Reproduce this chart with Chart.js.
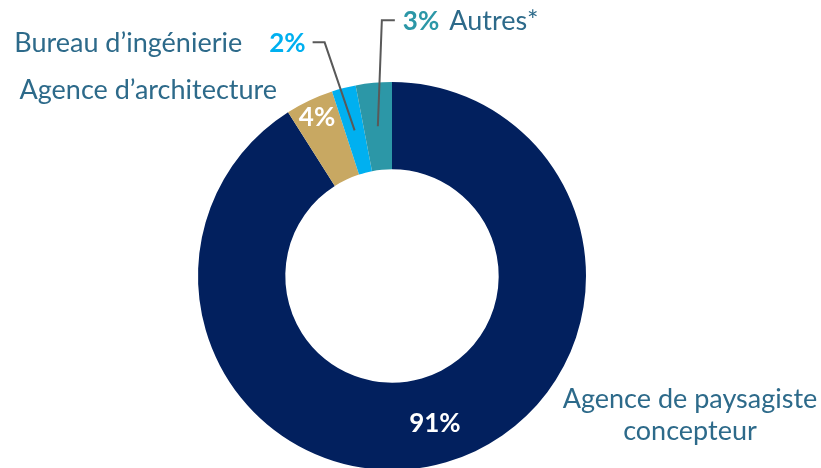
<!DOCTYPE html>
<html>
<head>
<meta charset="utf-8">
<script src="https://cdn.jsdelivr.net/npm/chart.js@4"></script>
<style>
  html, body { margin: 0; padding: 0; background: #fff; }
  #wrap { width: 821px; height: 468px; overflow: hidden; position: relative; }
  canvas { display: block; }
</style>
</head>
<body>
<div id="wrap"><canvas id="donut" width="821" height="560"></canvas></div>
<script>
// chart data
const categories = ['Agence de paysagiste concepteur', 'Agence d\u2019architecture', 'Bureau d\u2019ingénierie', 'Autres*'];
const shares = [91, 4, 2, 3];
const colors = ['#02205E', '#C8A862', '#00B0F0', '#2C97A7'];

const labelColor = '#2D6A8A';
const lineColor = '#595959';
const fontFam = 'Lato, "Open Sans", sans-serif';
const nameFont = '27px ' + fontFam;
const pctFont = 'bold 26px ' + fontFam;

// draws percentages, category names and leader lines from arc positions
const labelPlugin = {
    id: 'donutLabels',
    afterDatasetsDraw(chart) {
        const c = chart.ctx;
        const arcs = chart.getDatasetMeta(0).data;
        const pos = arcs.map(a => a.tooltipPosition());
        c.save();
        c.textBaseline = 'alphabetic';

        // 91% inside the big slice
        c.fillStyle = '#fff';
        c.font = pctFont;
        c.textAlign = 'center';
        c.fillText(shares[0] + '%', pos[0].x + 1, pos[0].y + 12);
        c.fillStyle = labelColor;
        c.font = nameFont;
        c.fillText('Agence de paysagiste', pos[0].x + 256, pos[0].y - 12);
        c.fillText('concepteur', pos[0].x + 256, pos[0].y + 20);

        // 4% pushed towards the outer edge of its slice
        const a1 = arcs[1];
        const mid1 = (a1.startAngle + a1.endAngle) / 2;
        const r1 = a1.outerRadius - 18;
        const p1 = { x: a1.x + Math.cos(mid1) * r1, y: a1.y + Math.sin(mid1) * r1 };
        c.fillStyle = '#fff';
        c.font = pctFont;
        c.textAlign = 'center';
        c.fillText(shares[1] + '%', p1.x, p1.y + 9);
        c.fillStyle = labelColor;
        c.font = nameFont;
        c.textAlign = 'right';
        c.fillText(categories[1], p1.x - 40, p1.y - 18);

        // leader lines
        c.strokeStyle = lineColor;
        c.lineWidth = 2;
        const b = pos[2];
        const bElbow = { x: b.x - 30, y: b.y - 88 };
        c.beginPath();
        c.moveTo(b.x, b.y);
        c.lineTo(bElbow.x, bElbow.y);
        c.lineTo(bElbow.x - 12, bElbow.y);
        c.stroke();

        const t = pos[3];
        const tElbow = { x: t.x + 4, y: t.y - 106 };
        c.beginPath();
        c.moveTo(t.x, t.y);
        c.lineTo(tElbow.x, tElbow.y);
        c.lineTo(tElbow.x + 13, tElbow.y);
        c.stroke();

        // 2% Bureau d'ingénierie
        c.textBaseline = 'middle';
        c.font = pctFont;
        c.textAlign = 'right';
        c.fillStyle = colors[2];
        const bx = bElbow.x - 19;
        c.fillText(shares[2] + '%', bx, bElbow.y + 1);
        const w2 = c.measureText(shares[2] + '%').width;
        c.font = nameFont;
        c.fillStyle = labelColor;
        c.fillText(categories[2], bx - w2 - 27, bElbow.y + 1);

        // 3% Autres*
        c.textAlign = 'left';
        c.font = pctFont;
        c.fillStyle = colors[3];
        const tx = tElbow.x + 21;
        c.fillText(shares[3] + '%', tx, tElbow.y + 1);
        const w3 = c.measureText(shares[3] + '%').width;
        c.font = nameFont;
        c.fillStyle = labelColor;
        c.fillText(categories[3], tx + w3 + 10, tElbow.y + 1);

        c.restore();
    }
};

new Chart(document.getElementById('donut').getContext('2d'), {
    type: 'doughnut',
    data: {
        labels: categories,
        datasets: [{
            data: shares,
            backgroundColor: colors,
            borderWidth: 0
        }]
    },
    options: {
        responsive: false,
        animation: false,
        cutout: '55%',
        layout: { padding: { left: 198, right: 235, top: 82, bottom: 90 } },
        plugins: { legend: { display: false }, tooltip: { enabled: false } }
    },
    plugins: [labelPlugin]
});
</script>
</body>
</html>
